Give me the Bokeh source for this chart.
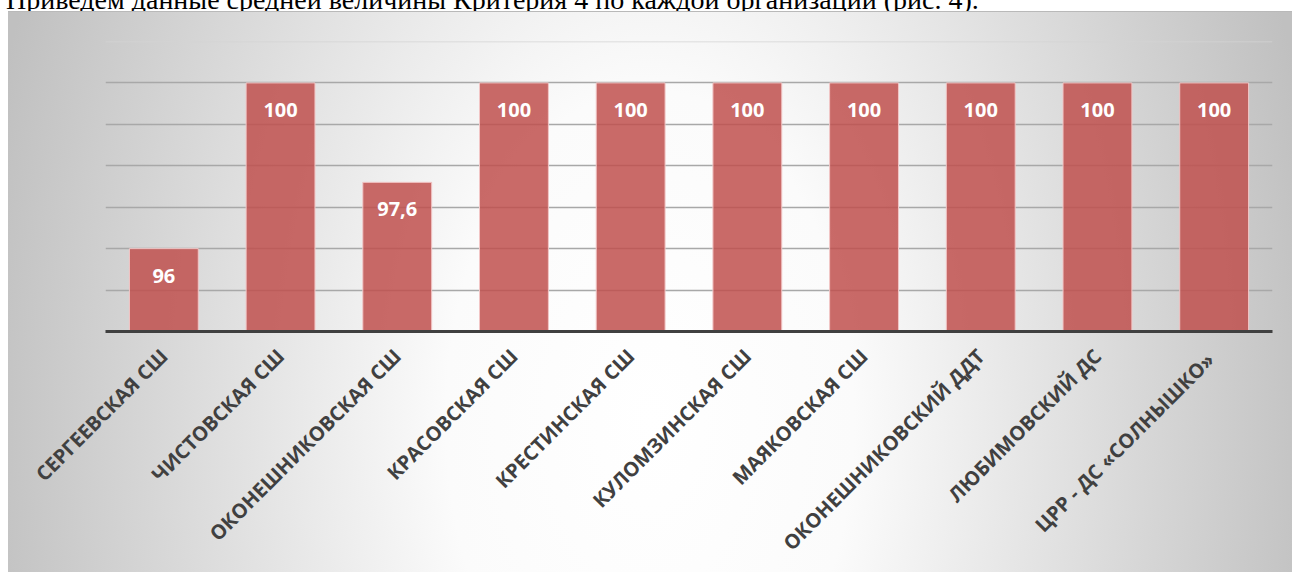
from bokeh.plotting import figure
from bokeh.models import ColumnDataSource, FactorRange, Range1d, LabelSet, Span, FixedTicker, Div
from bokeh.layouts import column
from bokeh.core.properties import value
from bokeh.embed import file_html
from bokeh.resources import INLINE
import math

# ---- data ----
categories = ["СЕРГЕЕВСКАЯ СШ", "ЧИСТОВСКАЯ СШ", "ОКОНЕШНИКОВСКАЯ СШ", "КРАСОВСКАЯ СШ",
              "КРЕСТИНСКАЯ СШ", "КУЛОМЗИНСКАЯ СШ", "МАЯКОВСКАЯ СШ", "ОКОНЕШНИКОВСКИЙ ДДТ",
              "ЛЮБИМОВСКИЙ ДС", "ЦРР - ДС  «СОЛНЫШКО»"]
values = [96, 100, 97.6, 100, 100, 100, 100, 100, 100, 100]
value_labels = ["96", "100", "97,6", "100", "100", "100", "100", "100", "100", "100"]
y_min, y_max = 94, 101
grid_values = [95, 96, 97, 98, 99, 100]
heading = "Приведем данные средней величины Критерия 4 по каждой организации (рис. 4)."

src = ColumnDataSource(data=dict(cat=categories, val=values, lbl=value_labels))

W = 1292
HEAD_H = 11
H = 572 - HEAD_H

head = Div(text=('<div style="font-family:\'Liberation Serif\'; font-size:28px; line-height:28px; '
                 'white-space:nowrap; position:relative; top:-14px; left:6px; color:#000;">'
                 + heading + '</div>'),
           width=W, height=HEAD_H, margin=0)

p = figure(x_range=FactorRange(*categories), y_range=Range1d(y_min, y_max),
           width=W, height=H, min_border_left=105, min_border_right=20,
           min_border_top=30, min_border_bottom=241,
           output_backend="svg", toolbar_location=None, margin=0)

p.background_fill_color = None
p.border_fill_color = None
p.outline_line_color = None
p.styles = {
    "background": ("linear-gradient(#b9b9b9,#b9b9b9) 8px 0px / 1290px 1px no-repeat, "
                   "radial-gradient(ellipse 680px 1100px at 642px 409px, #ffffff 0%, #fbfbfb 30%, #c0c0c0 100%) "
                   "8px 0px / 1290px 570px no-repeat, #ffffff"),
}

p.xgrid.visible = False
p.ygrid.ticker = FixedTicker(ticks=grid_values)
p.ygrid.grid_line_color = "#a8a8a8"
p.ygrid.grid_line_width = 1.5
p.yaxis.visible = False
p.add_layout(Span(location=y_max, dimension="width", line_color="#d4d4d4", line_width=1.5))

p.vbar(x="cat", top="val", bottom=y_min, width=0.59, source=src,
       fill_color="#C0504D", fill_alpha=0.85, line_color="#f2c6c6", line_width=1)

p.add_layout(LabelSet(x="cat", y="val", text="lbl", source=src, y_offset=-27,
                      text_align="center", text_baseline="middle", text_color="white",
                      text_font=value("Open Sans"), text_font_style="bold",
                      text_font_size="20px"))

ax = p.xaxis[0]
ax.axis_line_color = "#404040"
ax.axis_line_width = 3
ax.major_tick_line_color = None
ax.minor_tick_line_color = None
ax.major_label_orientation = math.pi / 4
ax.major_label_text_font = "Open Sans"
ax.major_label_text_font_style = "bold"
ax.major_label_text_font_size = "20px"
ax.major_label_text_color = "#404040"
ax.major_label_standoff = 15

layout = column(head, p, spacing=0, margin=0)
open("out.html", "w").write(file_html(layout, INLINE))
